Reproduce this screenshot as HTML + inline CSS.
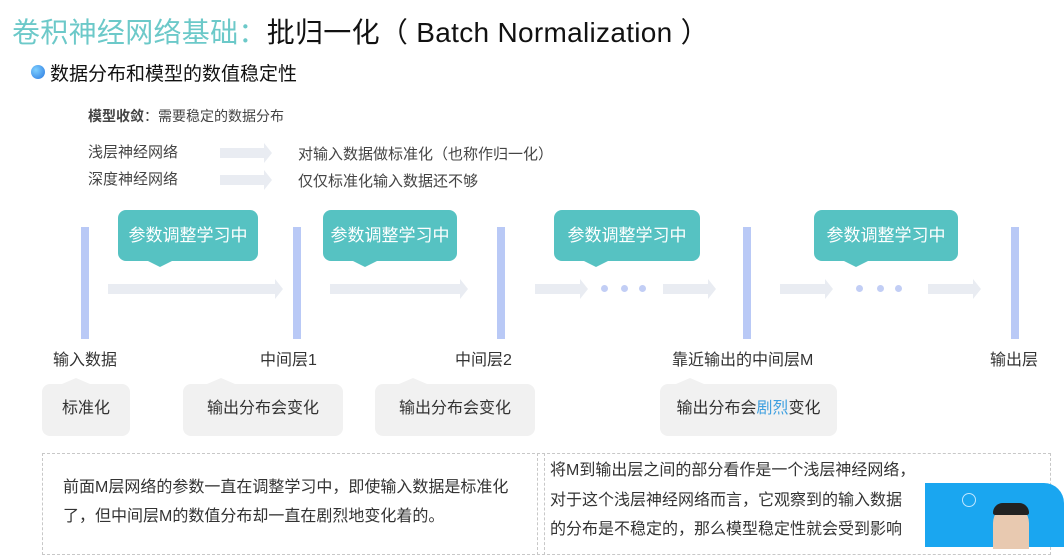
<!DOCTYPE html>
<html><head><meta charset="utf-8"><style>
body{margin:0;width:1064px;height:547px;background:#fff;position:relative;overflow:hidden;font-family:"Liberation Sans","Noto Sans CJK SC",sans-serif;color:#333}
.a{position:absolute;white-space:nowrap}
.bar{position:absolute;width:8px;top:227px;height:112px;background:#b9c9f6}
.tb{position:absolute;top:210px;height:51px;background:#56c2c2;border-radius:8px;color:#fff;font-size:17px;line-height:51px;text-align:center}
.tb:after{content:"";position:absolute;left:30px;bottom:-6px;border-left:12px solid transparent;border-right:12px solid transparent;border-top:6px solid #56c2c2}
.ar{position:absolute;height:10px;top:284px;background:#e9ecf2}
.ar:after{content:"";position:absolute;right:-8px;top:-5px;border-top:10px solid transparent;border-bottom:10px solid transparent;border-left:8px solid #e9ecf2}
.dot{position:absolute;width:7px;height:7px;border-radius:50%;background:#c2cef5;top:285px}
.gb{position:absolute;top:384px;height:52px;background:#f1f1f1;border-radius:8px;font-size:16px;line-height:50px;text-align:center;color:#333}
.gb:before{content:"";position:absolute;top:-6px;border-left:14px solid transparent;border-right:14px solid transparent;border-bottom:6px solid #f1f1f1}
.lb{position:absolute;top:346px;font-size:16px;color:#333}
</style></head><body>
<div class="a" style="left:12px;top:11px;font-size:28px;letter-spacing:0.3px"><span style="color:#6cc9c9">卷积神经网络基础：</span><span style="color:#111">批归一化（ Batch Normalization ）</span></div>
<div class="a" style="left:31px;top:65px;width:14px;height:14px;border-radius:50%;background:radial-gradient(circle at 35% 35%,#7fd0ff,#2a78e0)"></div>
<div class="a" style="left:50px;top:59px;font-size:19px;color:#111">数据分布和模型的数值稳定性</div>
<div class="a" style="left:88px;top:106px;font-size:14px;color:#444"><b>模型收敛</b>：需要稳定的数据分布</div>
<div class="a" style="left:88px;top:141px;font-size:15px;color:#444">浅层神经网络</div>
<div class="a" style="left:88px;top:168px;font-size:15px;color:#444">深度神经网络</div>
<div class="ar" style="left:220px;top:148px;width:44px"></div>
<div class="ar" style="left:220px;top:175px;width:44px"></div>
<div class="a" style="left:298px;top:143px;font-size:15px;color:#444">对输入数据做标准化（也称作归一化）</div>
<div class="a" style="left:298px;top:170px;font-size:15px;color:#444">仅仅标准化输入数据还不够</div>

<div class="bar" style="left:81px"></div><div class="bar" style="left:293px"></div><div class="bar" style="left:497px"></div><div class="bar" style="left:743px"></div><div class="bar" style="left:1011px"></div>
<div class="tb" style="left:118px;width:140px">参数调整学习中</div>
<div class="tb" style="left:323px;width:134px">参数调整学习中</div>
<div class="tb" style="left:554px;width:146px">参数调整学习中</div>
<div class="tb" style="left:814px;width:144px">参数调整学习中</div>
<div class="ar" style="left:108px;width:167px"></div>
<div class="ar" style="left:330px;width:130px"></div>
<div class="ar" style="left:535px;width:45px"></div>
<div class="ar" style="left:663px;width:45px"></div>
<div class="ar" style="left:780px;width:45px"></div>
<div class="ar" style="left:928px;width:45px"></div>
<div class="dot" style="left:601px"></div><div class="dot" style="left:621px"></div><div class="dot" style="left:639px"></div>
<div class="dot" style="left:856px"></div><div class="dot" style="left:877px"></div><div class="dot" style="left:895px"></div>
<div class="lb" style="left:53px">输入数据</div>
<div class="lb" style="left:260px">中间层1</div>
<div class="lb" style="left:455px">中间层2</div>
<div class="lb" style="left:672px">靠近输出的中间层M</div>
<div class="lb" style="left:990px">输出层</div>
<div class="gb" style="left:42px;width:88px">标准化</div>
<div class="gb" style="left:183px;width:160px">输出分布会变化</div>
<div class="gb" style="left:375px;width:160px">输出分布会变化</div>
<div class="gb" style="left:660px;width:177px">输出分布会<span style="color:#3fa0e0">剧烈</span>变化</div>
<div class="a" style="left:42px;top:453px;width:501px;height:100px;border:1px dashed #c8c8c8"></div>
<div class="a" style="left:537px;top:453px;width:512px;height:100px;border:1px dashed #c8c8c8"></div>
<div class="a" style="left:63px;top:473px;font-size:16px;line-height:29px;color:#333">前面M层网络的参数一直在调整学习中，即使输入数据是标准化<br>了，但中间层M的数值分布却一直在剧烈地变化着的。</div>
<div class="a" style="left:550px;top:456px;font-size:16px;line-height:29.5px;color:#333">将M到输出层之间的部分看作是一个浅层神经网络，<br>对于这个浅层神经网络而言，它观察到的输入数据<br>的分布是不稳定的，那么模型稳定性就会受到影响</div>
<div class="a" style="left:925px;top:483px;width:139px;height:64px;background:#1aa6f0;border-top-right-radius:20px"></div>
<div class="a" style="left:962px;top:493px;width:12px;height:12px;border:1px solid #bfe6ff;border-radius:50%"></div>
<div class="a" style="left:993px;top:505px;width:36px;height:44px;border-radius:18px 18px 0 0;background:#e8c9b0"></div>
<div class="a" style="left:993px;top:503px;width:36px;height:12px;border-radius:18px 18px 4px 4px;background:#222"></div>
</body></html>
